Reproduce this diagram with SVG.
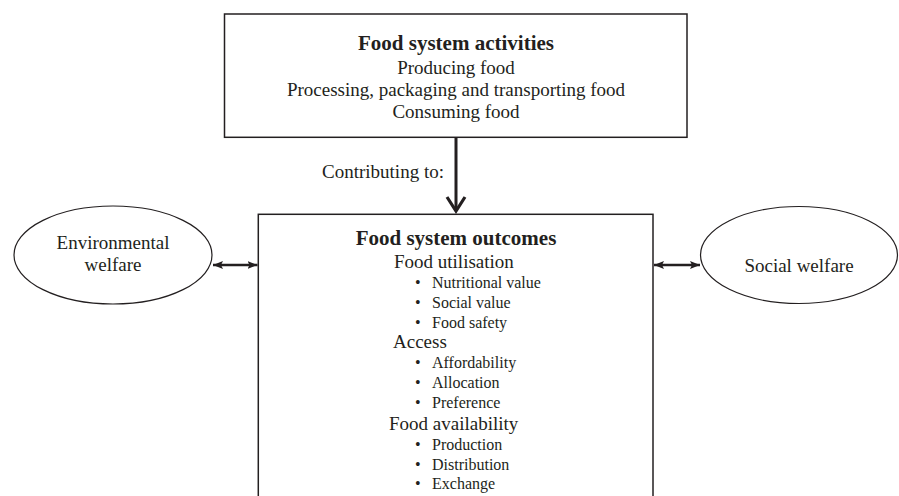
<svg xmlns="http://www.w3.org/2000/svg" width="899" height="496" viewBox="0 0 899 496">
<defs>
<style>
.box{fill:#fff;stroke:#231f20;stroke-width:1.5}
.ell{fill:#fff;stroke:#231f20;stroke-width:1.2}
text{font-family:"Liberation Serif","Times New Roman",serif;fill:#231f20}
.t{font-size:21px;font-weight:bold;text-anchor:middle}
.m{font-size:19px;text-anchor:middle}
.s{font-size:19px}
.b{font-size:16px}
.c{stroke:#231f20;fill:none}
</style>
<marker id="hd" markerWidth="12" markerHeight="12" viewBox="0 0 12 12" refX="10" refY="6" orient="auto-start-reverse" markerUnits="userSpaceOnUse">
<path d="M0,2 L10,6 L0,10 L2,6 Z" fill="#231f20"/>
</marker>
</defs>
<rect width="899" height="496" fill="#fff"/>
<g id="activities">
<rect class="box" x="224.5" y="14" width="462.5" height="123.3"/>
<text class="t" x="456" y="50">Food system activities</text>
<text class="m" x="456" y="74">Producing food</text>
<text class="m" x="456" y="96">Processing, packaging and transporting food</text>
<text class="m" x="456" y="118">Consuming food</text>
</g>
<g id="outcomes">
<rect class="box" x="258.3" y="214.3" width="394.7" height="300"/>
<text class="t" x="456" y="245">Food system outcomes</text>
<text class="s" x="394" y="268">Food utilisation</text>
<text class="b" x="415" y="288">•</text><text class="b" x="432" y="288">Nutritional value</text>
<text class="b" x="415" y="308">•</text><text class="b" x="432" y="308">Social value</text>
<text class="b" x="415" y="328">•</text><text class="b" x="432" y="328">Food safety</text>
<text class="s" x="393" y="348">Access</text>
<text class="b" x="415" y="368">•</text><text class="b" x="432" y="368">Affordability</text>
<text class="b" x="415" y="388">•</text><text class="b" x="432" y="388">Allocation</text>
<text class="b" x="415" y="408">•</text><text class="b" x="432" y="408">Preference</text>
<text class="s" x="389" y="430">Food availability</text>
<text class="b" x="415" y="450">•</text><text class="b" x="432" y="450">Production</text>
<text class="b" x="415" y="470">•</text><text class="b" x="432" y="470">Distribution</text>
<text class="b" x="415" y="489">•</text><text class="b" x="432" y="489">Exchange</text>
</g>
<g id="environmental">
<ellipse class="ell" cx="113" cy="255" rx="99" ry="49"/>
<text class="m" x="113" y="249">Environmental</text>
<text class="m" x="113" y="271">welfare</text>
</g>
<g id="social">
<ellipse class="ell" cx="799" cy="255" rx="98.5" ry="48.5"/>
<text class="m" x="799" y="272">Social welfare</text>
</g>
<g id="connectors">
<line class="c" x1="456" y1="137.5" x2="456" y2="211" stroke-width="3"/>
<path class="c" d="M447,197 L456,211 L465,197" stroke-width="3.2" stroke-linejoin="miter"/>
<text class="m" x="383" y="178">Contributing to:</text>
<line class="c" x1="213" y1="265" x2="257.5" y2="265" stroke-width="2.3" marker-start="url(#hd)" marker-end="url(#hd)"/>
<line class="c" x1="654" y1="265" x2="700" y2="265" stroke-width="2.3" marker-start="url(#hd)" marker-end="url(#hd)"/>
</g>
</svg>
